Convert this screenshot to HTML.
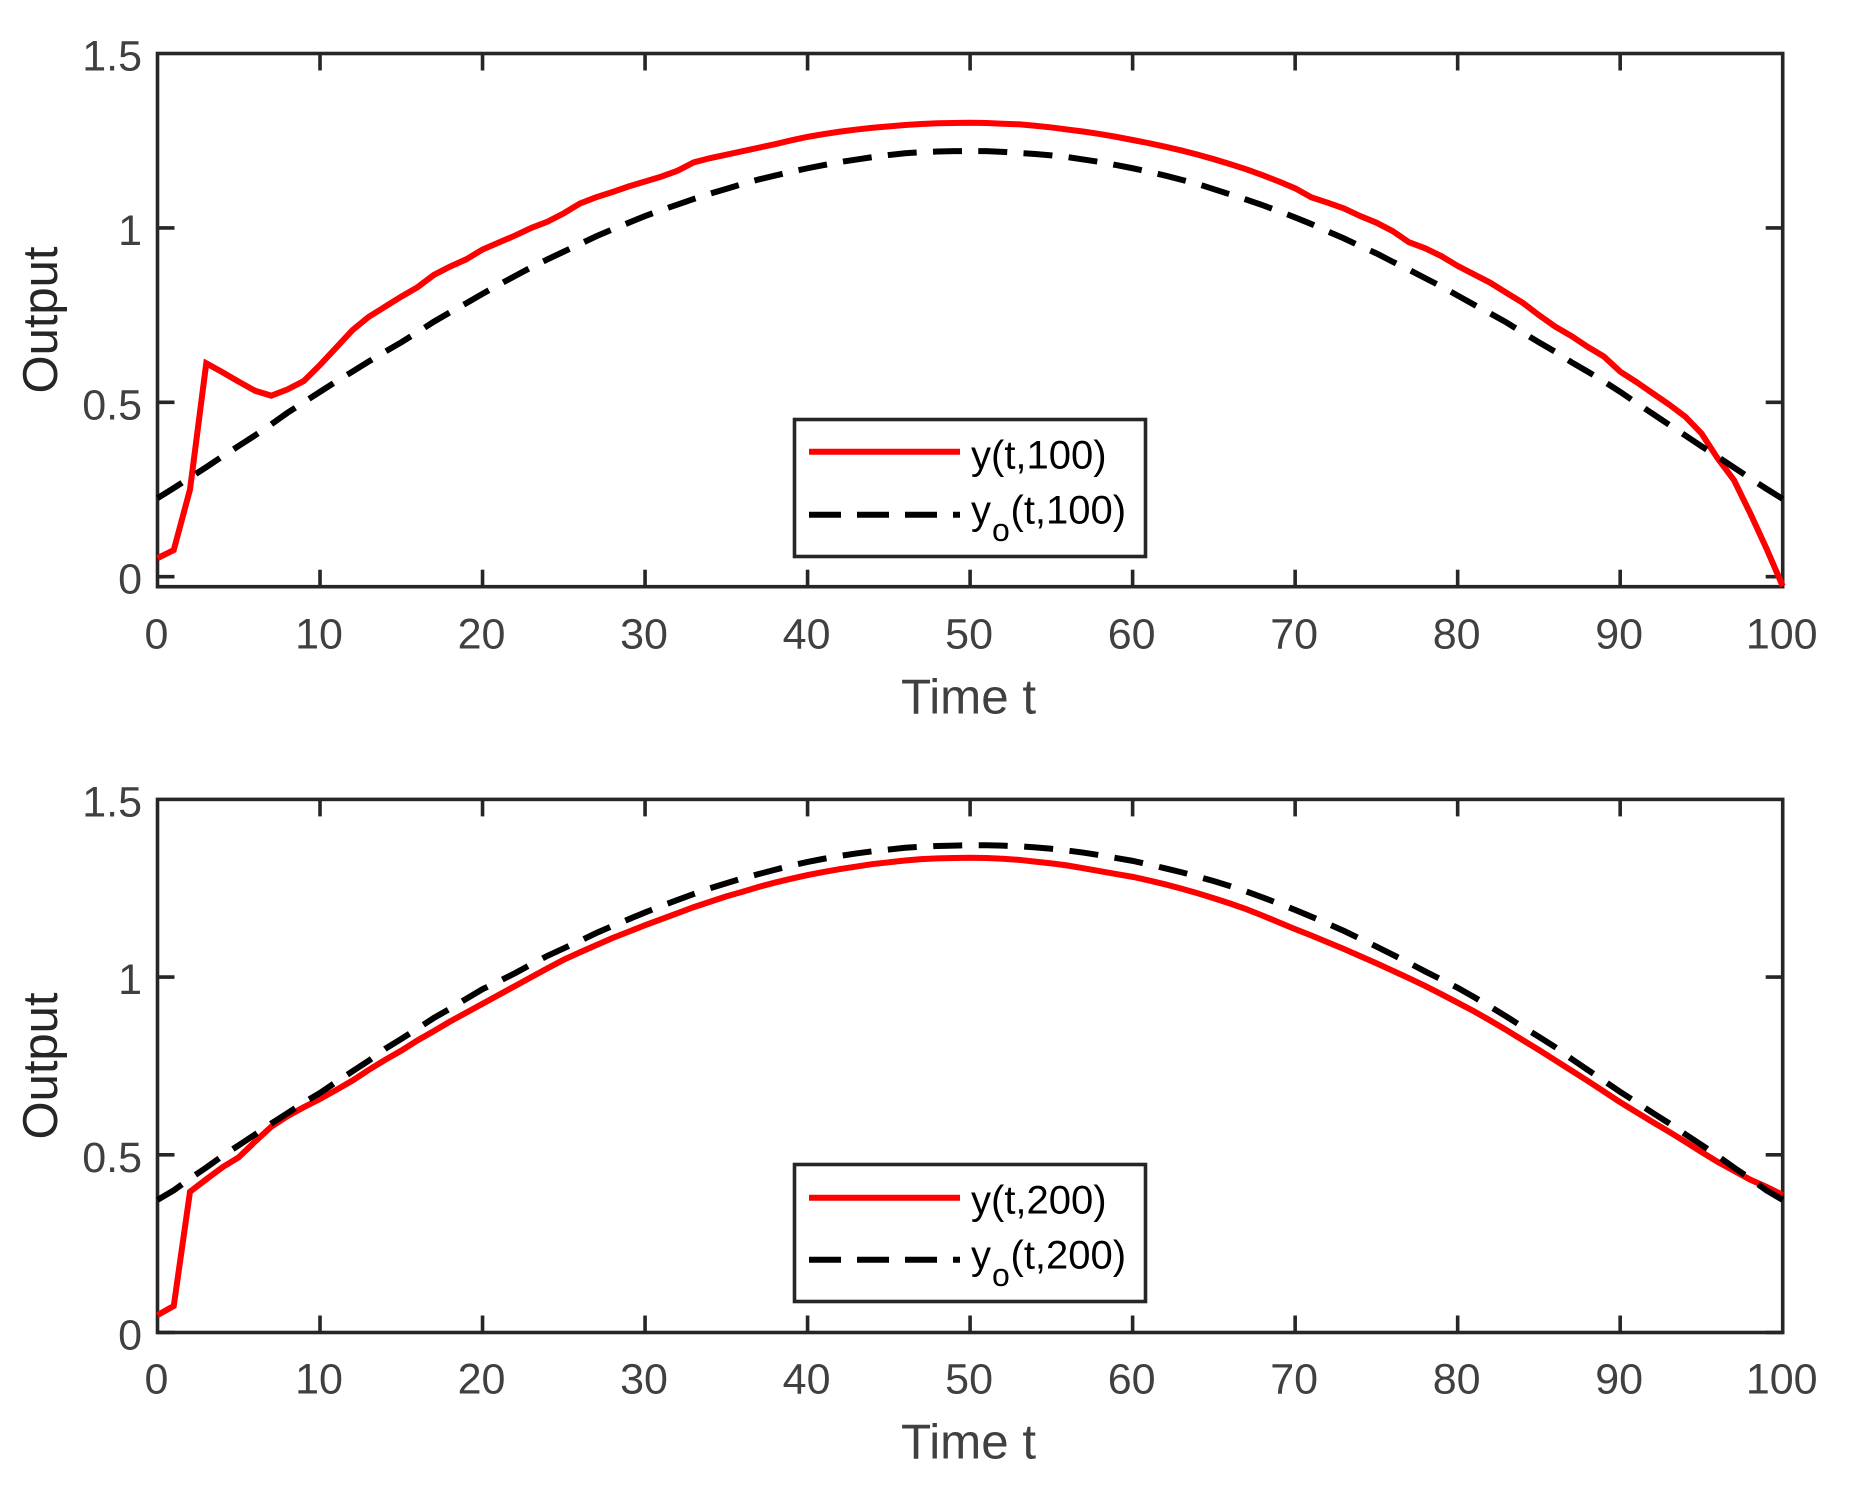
<!DOCTYPE html>
<html lang="en">
<head>
<meta charset="utf-8">
<title>Output vs Time</title>
<style>
html,body{margin:0;padding:0;background:#fff;}
svg{display:block;font-family:"Liberation Sans",Arial,sans-serif;}
</style>
</head>
<body>
<svg id="chart" xmlns="http://www.w3.org/2000/svg" width="1857" height="1496" viewBox="0 0 1857 1496">
  <rect x="0" y="0" width="1857" height="1496" fill="#fff"/>
  <g id="panel-top"></g>
  <g id="panel-bottom"></g>

  <text x="968.5" y="713.5" font-size="49.3" fill="#404040" text-anchor="middle">Time t</text>
  <text transform="translate(57,320) rotate(-90)" font-size="49" fill="#262626" text-anchor="middle">Output</text>
  <text x="968.5" y="1458.5" font-size="49.3" fill="#404040" text-anchor="middle">Time t</text>
  <text transform="translate(57,1066) rotate(-90)" font-size="49" fill="#262626" text-anchor="middle">Output</text>

  <g>
    <rect x="794.5" y="419.5" width="351" height="137" fill="#fff" stroke="#262626" stroke-width="3.6"/>
    <line x1="809" x2="960" y1="451.7" y2="451.7" stroke="#ff0000" stroke-width="6"/>
    <line x1="809" x2="960" y1="514.7" y2="514.7" stroke="#000" stroke-width="6" stroke-dasharray="32 16"/>
    <text x="971" y="468.5" font-size="40" fill="#000">y(t,100)</text>
    <text x="971" y="523.5" font-size="40" fill="#000">y</text>
    <text x="992" y="541" font-size="32" fill="#000">o</text>
    <text x="1010.5" y="523.5" font-size="40" fill="#000">(t,100)</text>
  </g>
  <g>
    <rect x="794.5" y="1164.5" width="351" height="137" fill="#fff" stroke="#262626" stroke-width="3.6"/>
    <line x1="809" x2="960" y1="1197.7" y2="1197.7" stroke="#ff0000" stroke-width="6"/>
    <line x1="809" x2="960" y1="1259.7" y2="1259.7" stroke="#000" stroke-width="6" stroke-dasharray="32 16"/>
    <text x="971" y="1213.5" font-size="40" fill="#000">y(t,200)</text>
    <text x="971" y="1268.5" font-size="40" fill="#000">y</text>
    <text x="992" y="1286" font-size="32" fill="#000">o</text>
    <text x="1010.5" y="1268.5" font-size="40" fill="#000">(t,200)</text>
  </g>
</svg>
<script>
const xTicks = [0, 10, 20, 30, 40, 50, 60, 70, 80, 90, 100];
const xTickLabels = ["0", "10", "20", "30", "40", "50", "60", "70", "80", "90", "100"];
const yTicks = [0, 0.5, 1, 1.5];
const yTickLabels = ["0", "0.5", "1", "1.5"];

const yTop100 = [
0.053,0.0765,0.25,0.612,0.586,0.559,0.533,0.519,0.537,0.561,
0.607,0.657,0.707,0.745,0.774,0.803,0.83,0.865,0.889,0.91,
0.938,0.958,0.978,1.0,1.018,1.042,1.07,1.088,1.103,1.119,
1.133,1.147,1.164,1.188,1.2,1.21,1.22,1.23,1.24,1.251,
1.261,1.269,1.276,1.282,1.287,1.291,1.295,1.298,1.3,1.3006,
1.3016,1.3006,1.2987,1.297,1.293,1.288,1.282,1.276,1.269,1.261,
1.252,1.243,1.233,1.222,1.21,1.197,1.183,1.168,1.151,1.133,
1.1135,1.0876,1.0723,1.056,1.034,1.015,0.991,0.959,0.9415,0.919,
0.891,0.867,0.843,0.814,0.7856,0.75,0.717,0.69,0.659,0.631,
0.588,0.558,0.526,0.494,0.459,0.411,0.339,0.277,0.182,0.081,-0.027
];
const yoTop100 = [
0.225,0.254,0.284,0.314,0.345,0.375,0.405,0.437,0.47,0.5,
0.53,0.56,0.588,0.617,0.645,0.672,0.701,0.731,0.758,0.784,
0.811,0.837,0.862,0.887,0.91,0.932,0.954,0.976,0.996,1.015,
1.034,1.051,1.067,1.083,1.098,1.112,1.126,1.139,1.15,1.161,
1.171,1.18,1.189,1.196,1.203,1.209,1.214,1.217,1.219,1.22,
1.22,1.22,1.218,1.215,1.212,1.208,1.203,1.196,1.189,1.18,
1.171,1.161,1.15,1.138,1.126,1.111,1.096,1.081,1.065,1.048,
1.03,1.011,0.99,0.97,0.948,0.927,0.903,0.88,0.856,0.832,
0.806,0.78,0.755,0.729,0.7,0.672,0.645,0.615,0.588,0.56,
0.53,0.498,0.467,0.436,0.405,0.374,0.344,0.313,0.282,0.252,0.223
];
const yBottom200 = [
0.049,0.0746,0.396,0.431,0.465,0.493,0.537,0.579,0.609,0.634,
0.657,0.6825,0.709,0.739,0.767,0.793,0.822,0.848,0.875,0.9,
0.925,0.95,0.975,1.0,1.025,1.049,1.07,1.09,1.11,1.128,
1.146,1.163,1.18,1.197,1.212,1.227,1.24,1.254,1.266,1.277,
1.287,1.296,1.304,1.311,1.318,1.323,1.328,1.332,1.334,1.335,
1.336,1.335,1.333,1.33,1.325,1.32,1.314,1.306,1.298,1.29,
1.282,1.272,1.261,1.249,1.236,1.222,1.207,1.191,1.173,1.154,
1.135,1.117,1.098,1.079,1.059,1.039,1.018,0.997,0.975,0.952,
0.928,0.904,0.878,0.851,0.823,0.795,0.766,0.737,0.708,0.678,
0.648,0.62,0.592,0.565,0.537,0.508,0.48,0.455,0.43,0.41,0.387
];
const yoBottom200 = [
0.373,0.4,0.433,0.464,0.497,0.527,0.557,0.588,0.617,0.647,
0.674,0.705,0.735,0.765,0.798,0.826,0.855,0.885,0.911,0.939,
0.966,0.988,1.011,1.036,1.06,1.081,1.102,1.124,1.144,1.163,
1.182,1.2,1.217,1.234,1.25,1.264,1.278,1.29,1.302,1.314,
1.324,1.333,1.341,1.348,1.354,1.359,1.364,1.367,1.369,1.37,
1.371,1.371,1.37,1.368,1.365,1.361,1.356,1.35,1.343,1.335,
1.327,1.317,1.306,1.295,1.283,1.27,1.256,1.241,1.224,1.207,
1.189,1.17,1.15,1.13,1.108,1.086,1.063,1.04,1.016,0.993,
0.97,0.944,0.917,0.889,0.86,0.832,0.803,0.77,0.739,0.708,
0.677,0.648,0.618,0.589,0.558,0.528,0.497,0.464,0.433,0.4,0.373
];

const SVG_NS = "http://www.w3.org/2000/svg";
const AXIS_COLOR = "#262626";

function makeXScale(left, right) {
  return function (t) { return left + (t / 100) * (right - left); };
}
function makeYScale(top, bottom, vMin, vMax) {
  return function (v) { return bottom - ((v - vMin) / (vMax - vMin)) * (bottom - top); };
}
function makeLine(x1, y1, x2, y2) {
  const el = document.createElementNS(SVG_NS, "line");
  el.setAttribute("x1", x1);
  el.setAttribute("y1", y1);
  el.setAttribute("x2", x2);
  el.setAttribute("y2", y2);
  el.setAttribute("stroke", AXIS_COLOR);
  el.setAttribute("stroke-width", "3.6");
  return el;
}
function makeSeries(values, xs, ys, color) {
  const el = document.createElementNS(SVG_NS, "polyline");
  const pts = values.map(function (v, i) {
    return xs(i * 100 / (values.length - 1)).toFixed(2) + "," + ys(v).toFixed(2);
  });
  el.setAttribute("points", pts.join(" "));
  el.setAttribute("fill", "none");
  el.setAttribute("stroke", color);
  el.setAttribute("stroke-width", "6");
  el.setAttribute("stroke-linejoin", "miter");
  return el;
}
function fitDash(el, dash, gap) {
  const total = el.getTotalLength();
  const n = Math.max(1, Math.round((total - dash) / (dash + gap)));
  const fitted = (total - dash) / n - dash;
  el.setAttribute("stroke-dasharray", dash + " " + fitted.toFixed(3));
}

function drawPanel(host, suffix, top, bottom, vMin, yValues, yoValues, xLabelBaseline) {
  const left = 157.5, right = 1782.7, tickLen = 17;
  const xs = makeXScale(left, right);
  const ys = makeYScale(top, bottom, vMin, 1.5);

  const frame = document.createElementNS(SVG_NS, "rect");
  
  
  frame.setAttribute("x", left);
  frame.setAttribute("y", top);
  frame.setAttribute("width", right - left);
  frame.setAttribute("height", bottom - top);
  frame.setAttribute("fill", "none");
  frame.setAttribute("stroke", AXIS_COLOR);
  frame.setAttribute("stroke-width", "3.6");
  host.appendChild(frame);

  xTicks.forEach(function (t, i) {
    const px = xs(t);
    if (t !== 0 && t !== 100) {
      const tb = makeLine(px, bottom, px, bottom - tickLen);
      
      
      host.appendChild(tb);
      const tt = makeLine(px, top, px, top + tickLen);
      
      
      host.appendChild(tt);
    }
    const lab = document.createElementNS(SVG_NS, "text");
    
    
    lab.setAttribute("x", px - 1);
    lab.setAttribute("y", xLabelBaseline);
    lab.setAttribute("font-size", "43");
    lab.setAttribute("fill", "#404040");
    lab.setAttribute("text-anchor", "middle");
    lab.textContent = xTickLabels[i];
    host.appendChild(lab);
  });

  yTicks.forEach(function (v, i) {
    const py = ys(v);
    if (v !== 1.5) {
      const tl = makeLine(left, py, left + tickLen, py);
      
      
      host.appendChild(tl);
      const tr = makeLine(right, py, right - tickLen, py);
      
      
      host.appendChild(tr);
    }
    const lab = document.createElementNS(SVG_NS, "text");
    
    
    lab.setAttribute("x", 142);
    lab.setAttribute("y", py + 17);
    lab.setAttribute("font-size", "43");
    lab.setAttribute("fill", "#404040");
    lab.setAttribute("text-anchor", "end");
    lab.textContent = yTickLabels[i];
    host.appendChild(lab);
  });

  const yLine = makeSeries(yValues, xs, ys, "#ff0000");
  
  
  host.appendChild(yLine);

  const yoLine = makeSeries(yoValues, xs, ys, "#000000");
  
  
  host.appendChild(yoLine);
  fitDash(yoLine, 29, 16);
}

drawPanel(document.getElementById("panel-top"), "top", 53.5, 586.7, -0.0287, yTop100, yoTop100, 648.5);
drawPanel(document.getElementById("panel-bottom"), "bottom", 799.4, 1332.5, 0, yBottom200, yoBottom200, 1393.5);
</script>
</body>
</html>
